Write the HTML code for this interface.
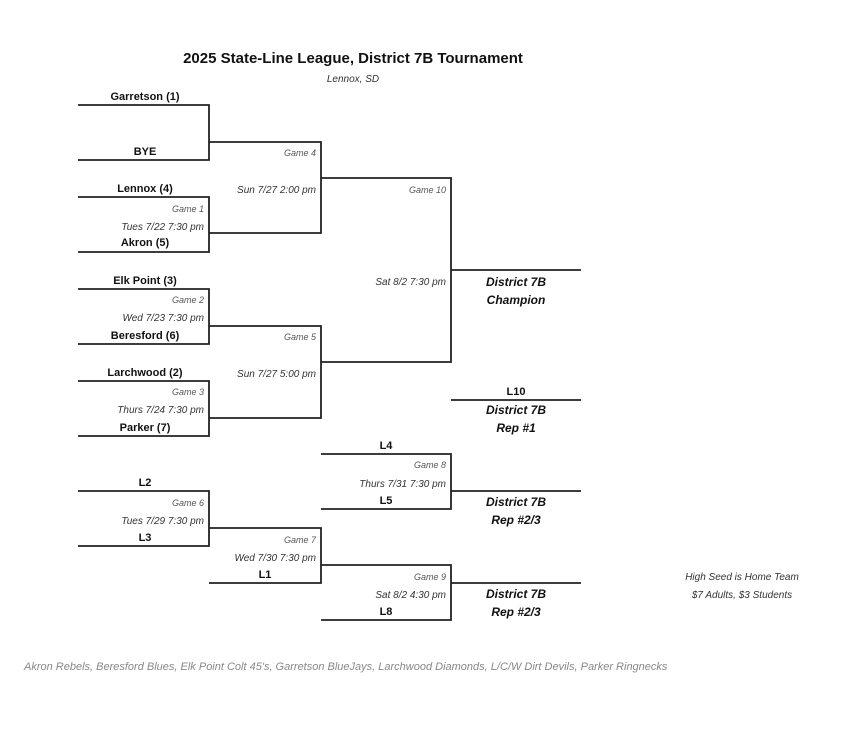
<!DOCTYPE html><html><head><style>body{margin:0;background:#fff}svg{display:block}text{font-family:"Liberation Sans",Arial,sans-serif}
.b{font-weight:bold;font-size:11px;fill:#111}.g{font-style:italic;font-size:9px;fill:#555}.d{font-style:italic;font-size:10px;fill:#333}.c{font-weight:bold;font-style:italic;font-size:12px;fill:#111}</style></head><body>
<svg width="850" height="739" xmlns="http://www.w3.org/2000/svg">
<g stroke="#222" stroke-width="1.8" fill="none">
<path d="M78 105H209V160H78M209 142H321V233H209"/>
<path d="M78 197H209V252H78"/>
<path d="M321 178H451V362H321"/>
<path d="M78 289H209V344H78M209 326H321V418H209M78 381H209V436H78"/>
<path d="M451 270H581M451 400H581"/>
<path d="M321 454H451V509H321M451 491H581"/>
<path d="M78 491H209V546H78M209 528H321V583H209M321 565H451V620H321M451 583H581"/>
</g>
<text x="353" y="63" text-anchor="middle" font-weight="bold" font-size="15" fill="#111">2025 State-Line League, District 7B Tournament</text>
<text x="353" y="82" text-anchor="middle" class="d">Lennox, SD</text>
<g class="b" text-anchor="middle">
<text x="145" y="100">Garretson (1)</text><text x="145" y="155">BYE</text>
<text x="145" y="192">Lennox (4)</text><text x="145" y="246">Akron (5)</text>
<text x="145" y="284">Elk Point (3)</text><text x="145" y="339">Beresford (6)</text>
<text x="145" y="376">Larchwood (2)</text><text x="145" y="431">Parker (7)</text>
<text x="145" y="486">L2</text><text x="145" y="541">L3</text>
<text x="265" y="578">L1</text><text x="386" y="449">L4</text><text x="386" y="504">L5</text><text x="386" y="615">L8</text>
<text x="516" y="395">L10</text>
</g>
<g class="g" text-anchor="end">
<text x="316" y="156">Game 4</text><text x="204" y="212">Game 1</text><text x="446" y="193">Game  10</text>
<text x="204" y="303">Game 2</text><text x="316" y="340">Game 5</text><text x="204" y="395">Game 3</text>
<text x="446" y="468">Game 8</text><text x="204" y="506">Game 6</text><text x="316" y="543">Game 7</text><text x="446" y="580">Game 9</text>
</g>
<g class="d" text-anchor="end">
<text x="316" y="193">Sun 7/27 2:00 pm</text><text x="204" y="230">Tues 7/22 7:30 pm</text>
<text x="204" y="321">Wed 7/23 7:30 pm</text><text x="316" y="377">Sun 7/27 5:00 pm</text><text x="446" y="285">Sat 8/2 7:30 pm</text>
<text x="204" y="413">Thurs 7/24 7:30 pm</text><text x="446" y="487">Thurs 7/31 7:30 pm</text>
<text x="204" y="524">Tues 7/29 7:30 pm</text><text x="316" y="561">Wed 7/30 7:30 pm</text><text x="446" y="598">Sat 8/2 4:30 pm</text>
</g>
<g class="c" text-anchor="middle">
<text x="516" y="286">District 7B</text><text x="516" y="304">Champion</text>
<text x="516" y="414">District 7B</text><text x="516" y="432">Rep #1</text>
<text x="516" y="506">District 7B</text><text x="516" y="524">Rep #2/3</text>
<text x="516" y="598">District 7B</text><text x="516" y="616">Rep #2/3</text>
</g>
<text x="742" y="580" text-anchor="middle" class="d" font-size="11">High Seed is Home Team</text>
<text x="742" y="598" text-anchor="middle" class="d" font-size="11">$7 Adults, $3 Students</text>
<text x="24" y="670" font-style="italic" font-size="11" fill="#888">Akron Rebels, Beresford Blues, Elk Point Colt 45's, Garretson BlueJays, Larchwood Diamonds, L/C/W Dirt Devils, Parker Ringnecks</text>
</svg></body></html>
